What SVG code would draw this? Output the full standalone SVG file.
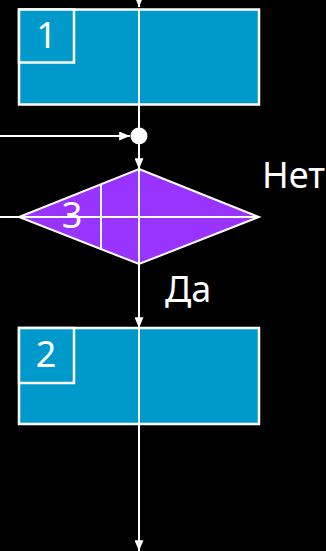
<svg xmlns="http://www.w3.org/2000/svg" width="326" height="551" viewBox="0 0 326 551">
<style>
.ln{stroke:#fff;stroke-width:2;fill:none}
.box{fill:#0099CC;stroke:#fff;stroke-width:2.5}
.dia{fill:#9933FF;stroke:#fff;stroke-width:2}
.t{fill:#fff;font-family:"Noto Sans","Open Sans",sans-serif;font-size:36px}
</style>
<defs>
<marker id="ah" viewBox="0 0 12 10" refX="12" refY="5" markerWidth="12" markerHeight="9" markerUnits="userSpaceOnUse" orient="auto">
<path d="M0,0 L12,5 L0,10 Z" fill="#fff"/>
</marker>
</defs>
<rect width="326" height="551" fill="#000"/>
<g id="connectors">
<line class="ln" x1="139" y1="-10" x2="139" y2="7" marker-end="url(#ah)"/>
<line class="ln" x1="0" y1="136" x2="130" y2="136" marker-end="url(#ah)"/>
<line class="ln" x1="139" y1="140" x2="139" y2="169" marker-end="url(#ah)"/>
<line class="ln" x1="0" y1="217" x2="20" y2="217"/>
<line class="ln" x1="139" y1="264" x2="139" y2="328" marker-end="url(#ah)"/>
<line class="ln" x1="139" y1="424" x2="139" y2="551" marker-end="url(#ah)"/>
</g>
<g id="node1">
<rect class="box" x="19" y="9.5" width="240" height="95"/>
<rect class="box" x="19" y="9.5" width="55" height="53" stroke-width="2"/>
<line class="ln" x1="139" y1="9" x2="139" y2="130"/>
<text class="t" x="46.5" y="48" text-anchor="middle">1</text>
</g>
<g id="junction">
<circle cx="139" cy="136" r="8.5" fill="#fff"/>
</g>
<g id="node3">
<polygon class="dia" points="139,169 259,217 139,264 19,217"/>
<line class="ln" x1="19" y1="217" x2="259" y2="217"/>
<line class="ln" x1="139" y1="169" x2="139" y2="264"/>
<line class="ln" x1="101" y1="184" x2="101" y2="249"/>
<text class="t" x="72" y="228" text-anchor="middle">3</text>
</g>
<g id="node2">
<rect class="box" x="19" y="328" width="240" height="96"/>
<rect class="box" x="19" y="328" width="55" height="55" stroke-width="2"/>
<line class="ln" x1="139" y1="328" x2="139" y2="424"/>
<text class="t" x="46" y="367" text-anchor="middle">2</text>
</g>
<g id="labels">
<text class="t" x="262" y="188">Нет</text>
<text class="t" x="165" y="302">Да</text>
</g>
</svg>
